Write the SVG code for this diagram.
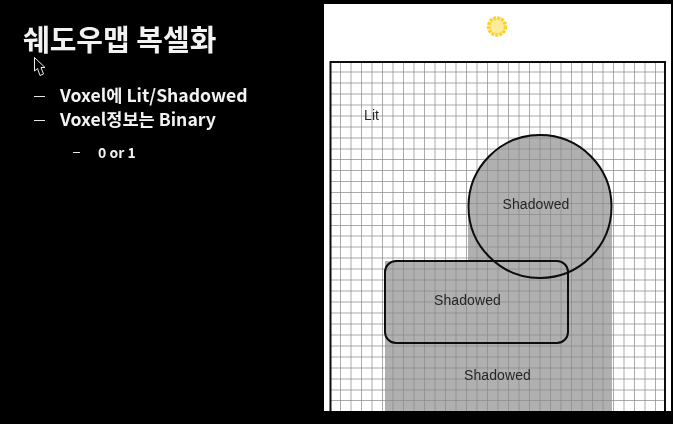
<svg xmlns="http://www.w3.org/2000/svg" width="673" height="424" viewBox="0 0 673 424">
<defs><filter id="soft" x="0" y="0" width="100%" height="100%"><feGaussianBlur stdDeviation="0.45"/></filter></defs>
<style>
.k{font-family:"Noto Sans CJK KR","Noto Sans",sans-serif;fill:#f2f2f2;font-weight:700}
.l{font-family:"Liberation Sans",Arial,sans-serif;font-size:14px;fill:#262626;letter-spacing:.1px}
.dash{stroke:#e8e8e8;stroke-width:1.2;fill:none}
.g{stroke:#8a8a8a;stroke-width:1;opacity:.72;fill:none}
.o{stroke:#0c0c0c;fill:none}
</style>
<rect width="673" height="424" fill="#000"/>
<g filter="url(#soft)">
<g id="title"><text class="k" x="23" y="50.500" font-size="29">쉐도우맵 복셀화</text></g>
<g id="cursor"><path d="M34.500 57.500V71L37.500 68.500L40 75.500L43.500 74L41 67.500H45Z" fill="#000" stroke="#eee" stroke-width="1"/></g>
<g id="bullets">
<path class="dash" d="M34 96.500H45M34 120.500H45M73 152.500H80"/>
<text class="k" x="60" y="102" font-size="17.600">Voxel에 Lit/Shadowed</text>
<text class="k" x="60" y="126" font-size="17.600">Voxel정보는 Binary</text>
<text class="k" x="98" y="158" font-size="14">0 or 1</text>
</g>
<g id="panel"><rect x="324" y="4" width="347" height="407" fill="#fff"/></g>
<g id="shadow"><path d="M468 206H612V411H385V261H468Z" fill="#b0b0b0"/><circle cx="540" cy="206" r="72" fill="#b0b0b0"/></g>
<g id="grid">
<path class="g" d="M340.500 61V411M351 61V411M361.500 61V411M372 61V411M382.500 61V411M393 61V411M403.500 61V411M414 61V411M424.500 61V411M435 61V411M445.500 61V411M456 61V411M466.500 61V411M477 61V411M487.500 61V411M498 61V411M508.500 61V411M519 61V411M529.500 61V411M540 61V411M550.500 61V411M561 61V411M571.500 61V411M582 61V411M592.500 61V411M603 61V411M613.500 61V411M624 61V411M634.500 61V411M645 61V411M655.500 61V411"/>
<path class="g" d="M330 72H665M330 83H665M330 94H665M330 105H665M330 116H665M330 127H665M330 138H665M330 149H665M330 159.500H665M330 170.500H665M330 181.500H665M330 192.500H665M330 203.500H665M330 214.500H665M330 225.500H665M330 236H665M330 247H665M330 258H665M330 269H665M330 280H665M330 291H665M330 302H665M330 313H665M330 324H665M330 335H665M330 346H665M330 357H665M330 368H665M330 379H665M330 390H665M330 400.500H665"/>
</g>
<g id="frame"><path class="o" stroke-width="2" d="M330.500 411V62H665V411"/></g>
<g id="sun"><circle cx="497" cy="26.500" r="8.500" fill="#fdeb9c" stroke="#fdd22a" stroke-width="3.500" stroke-dasharray="3 1"/></g>
<g id="lit"><text class="l" x="364" y="120">Lit</text></g>
<g id="circle"><circle class="o" cx="540" cy="206.500" r="71.500" stroke-width="2"/><text class="l" x="536" y="209" text-anchor="middle">Shadowed</text></g>
<g id="rect"><rect class="o" x="385" y="261" width="183" height="82" rx="11" stroke-width="2"/><text class="l" x="467.500" y="305" text-anchor="middle">Shadowed</text></g>
<g id="lower"><text class="l" x="497.500" y="380" text-anchor="middle">Shadowed</text></g>
</g>
</svg>
